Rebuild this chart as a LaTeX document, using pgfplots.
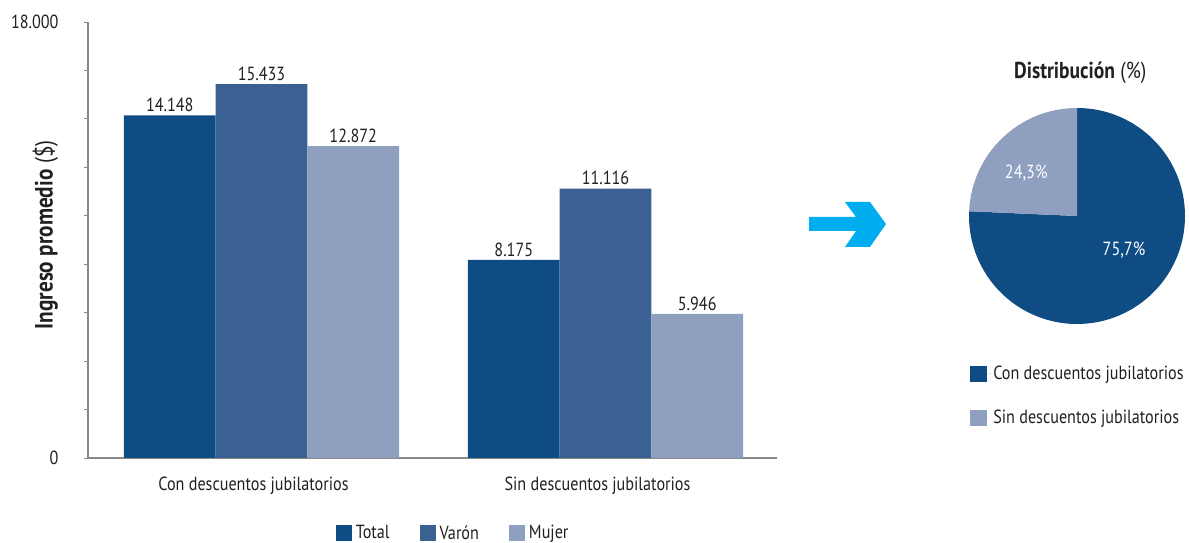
\documentclass[border=0pt]{standalone}
\usepackage{fontspec}
\setmainfont[FakeStretch=0.85]{PT Sans}
\usepackage{pgfplots}
\pgfplotsset{compat=1.18}
\definecolor{cTotal}{HTML}{0F4C84}
\definecolor{cVaron}{HTML}{3A6191}
\definecolor{cMujer}{HTML}{8E9FC0}
\definecolor{axgray}{HTML}{888888}
\definecolor{txt}{HTML}{231F20}
\definecolor{arrowc}{HTML}{00AEEF}

% pie shares (%)
\def\pieCon{75.7}
\def\pieSin{24.3}

\begin{document}
\begin{tikzpicture}[font=\fontsize{19}{22}\selectfont, text=txt]

% --- bar chart ---
\begin{axis}[
    at={(88pt,85pt)}, anchor=south west,
    scale only axis, width=689pt, height=436pt,
    ybar=0pt, bar width=91.7pt,
    xmin=-0.5044, xmax=1.4985,
    ymin=0, ymax=18000,
    xtick={0,1}, xticklabels={Con descuentos jubilatorios, Sin descuentos jubilatorios},
    x tick style={draw=none},
    xticklabel style={yshift=-11pt, xshift=-8pt},
    ytick={0,2000,...,18000},
    yticklabels={0,,,,,,,,,18.000},
    scaled y ticks=false,
    tick align=outside, major tick length=4pt,
    ytick style={axgray, line width=0.8pt},
    yticklabel style={xshift=-22pt},
    axis x line*=bottom, axis y line*=left,
    axis line style={axgray, line width=1.2pt, -},
    ylabel={\textbf{Ingreso promedio} (\$)},
    ylabel style={at={(axis description cs:-0.062,0.512)}, anchor=center, font=\fontsize{25}{28}\selectfont},
    nodes near coords,
    every node near coord/.append style={text=txt},
    nodes near coords style={/pgf/number format/.cd, fixed, precision=0, 1000 sep={.}, assume math mode=true},
    legend style={at={(0.53,-0.172)}, anchor=center, draw=none, fill=none,
        legend columns=3, /tikz/every even column/.append style={column sep=28pt}},
    legend image code/.code={\fill[#1] (0pt,-8pt) rectangle (16pt,8pt); \path[draw=none] (0pt,0pt) -- (18pt,0pt);},
    clip=false,
]
\addplot[fill=cTotal, draw=none] coordinates {(0,14148) (1,8175)};
\addplot[fill=cVaron, draw=none] coordinates {(0,15433) (1,11116)};
\addplot[fill=cMujer, draw=none] coordinates {(0,12872) (1,5946)};
\legend{Total, Varón, Mujer}
\end{axis}

% --- arrow ---
\fill[arrowc] (809pt,326pt) -- (856pt,326pt) -- (845pt,341pt) -- (870pt,341pt)
   -- (886pt,319pt) -- (870pt,296pt) -- (845pt,296pt) -- (856pt,312pt) -- (809pt,312pt) -- cycle;

% --- pie chart ---
\begin{axis}[
    at={(1077pt,327pt)}, anchor=center,
    scale only axis, x=108pt, y=108pt,
    xmin=-1, xmax=1, ymin=-1, ymax=1,
    hide axis, clip=false,
    legend style={at={(axis cs:-0.99,-1.37)}, anchor=north west, draw=none, fill=none,
        inner sep=0pt, row sep=25pt, cells={anchor=west}},
    legend image code/.code={\fill[#1] (0pt,-8pt) rectangle (17pt,8pt); \path[draw=none] (0pt,0pt) -- (21pt,0pt);},
]
\pgfmathsetmacro{\endA}{90-3.6*\pieCon}
\pgfmathsetmacro{\endB}{90+3.6*\pieSin}
\fill[cTotal] (axis cs:0,0) -- (axis cs:0,1) arc[start angle=90, end angle=\endA, radius=108pt] -- cycle;
\fill[cMujer] (axis cs:0,0) -- (axis cs:0,1) arc[start angle=90, end angle=\endB, radius=108pt] -- cycle;
\node[white] at (axis cs:-0.47,0.40) {24,3\%};
\node[white] at (axis cs:0.435,-0.32) {75,7\%};
\node at (axis cs:0.03,1.33) {\fontsize{23}{26}\selectfont\textbf{Distribución} (\%)};
\addlegendimage{fill=cTotal, draw=none}
\addlegendentry{Con descuentos jubilatorios}
\addlegendimage{fill=cMujer, draw=none}
\addlegendentry{Sin descuentos jubilatorios}
\end{axis}

\pgfresetboundingbox
\useasboundingbox (0pt,0pt) rectangle (1189pt,543pt);
\end{tikzpicture}
\end{document}
